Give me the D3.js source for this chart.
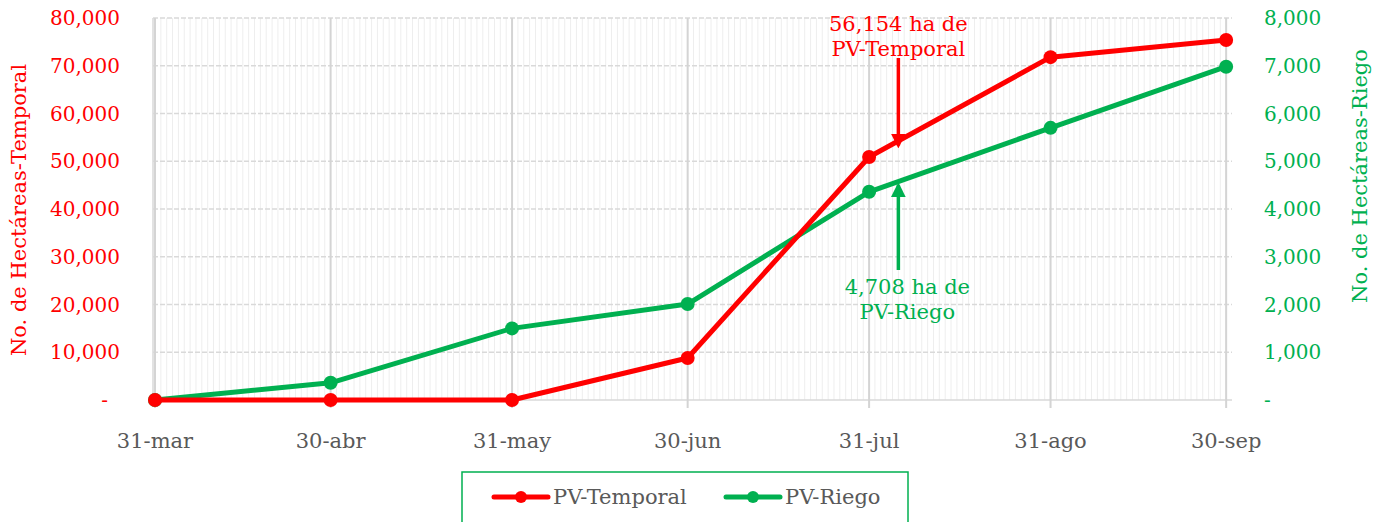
<!DOCTYPE html>
<html>
<head>
<meta charset="utf-8">
<script src="https://cdn.jsdelivr.net/npm/d3@7"></script>
<style>
  body { margin: 0; background: #fff; }
  text { font-family: "DejaVu Serif", serif; }
</style>
</head>
<body>
<div id="chart"></div>
<script>
// data
var fechas = ["2020-03-31", "2020-04-30", "2020-05-31", "2020-06-30", "2020-07-31", "2020-08-31", "2020-09-30"];
var etiquetasX = ["31-mar", "30-abr", "31-may", "30-jun", "31-jul", "31-ago", "30-sep"];
var temporal = [0, 0, 0, 8800, 50900, 71800, 75400];
var riego = [0, 360, 1500, 2010, 4360, 5700, 6980];
var ticksTemporal = [0, 10000, 20000, 30000, 40000, 50000, 60000, 70000, 80000];
var ticksRiego = [0, 1000, 2000, 3000, 4000, 5000, 6000, 7000, 8000];
var notaTemporal = { fecha: "2020-08-05", valor: 53300, texto: ["56,154 ha de", "PV-Temporal"] };
var notaRiego = { fecha: "2020-08-05", valor: 4500, texto: ["4,708 ha de", "PV-Riego"] };

var rojo = "#FF0000", verde = "#00B050", gris = "#595959";
var parse = d3.timeParse("%Y-%m-%d");

var svgWidth = 1378, svgHeight = 522;
var svg = d3.select("#chart").append("svg")
  .attr("width", svgWidth)
  .attr("height", svgHeight);

var x = d3.scaleTime()
  .domain([parse("2020-03-31"), parse("2020-10-01")])
  .range([155, 1232]);
var yL = d3.scaleLinear().domain([0, 80000]).range([400, 18]);
var yR = d3.scaleLinear().domain([0, 8000]).range([400, 18]);

var fmt = function (v) { return v === 0 ? "-" : d3.format(",")(v); };

// minor daily gridlines
var dias = d3.timeDay.range(x.domain()[0], x.domain()[1]);
svg.append("g").selectAll("line")
  .data(dias)
  .enter().append("line")
  .attr("x1", d => x(d)).attr("x2", d => x(d))
  .attr("y1", yL(80000)).attr("y2", yL(0))
  .attr("stroke", "#eeeeee").attr("stroke-width", 1);

// horizontal gridlines
svg.append("g").selectAll("line")
  .data(ticksTemporal)
  .enter().append("line")
  .attr("x1", x.range()[0] - 2).attr("x2", x.range()[1])
  .attr("y1", d => yL(d)).attr("y2", d => yL(d))
  .attr("stroke", "#d9d9d9").attr("stroke-width", 1.5)
  .attr("stroke-dasharray", d => d === 0 ? null : "5,2");

// left frame
svg.append("line")
  .attr("x1", x.range()[0] - 2).attr("x2", x.range()[0] - 2)
  .attr("y1", yL(80000)).attr("y2", yL(0))
  .attr("stroke", "#d9d9d9").attr("stroke-width", 1.5);

// major gridlines at month ends
svg.append("g").selectAll("line")
  .data(fechas)
  .enter().append("line")
  .attr("x1", d => x(parse(d))).attr("x2", d => x(parse(d)))
  .attr("y1", yL(80000)).attr("y2", yL(0) + 8)
  .attr("stroke", "#d4d4d4").attr("stroke-width", 2);

// x labels
svg.append("g").selectAll("text")
  .data(fechas)
  .enter().append("text")
  .attr("x", d => x(parse(d)))
  .attr("y", 448)
  .attr("text-anchor", "middle")
  .attr("fill", gris)
  .style("font-size", "21px")
  .text((d, i) => etiquetasX[i]);

// left axis labels
svg.append("g").selectAll("text")
  .data(ticksTemporal)
  .enter().append("text")
  .attr("x", d => d === 0 ? 108 : 120)
  .attr("y", d => yL(d) + 7)
  .attr("text-anchor", "end")
  .attr("fill", rojo)
  .style("font-size", "20px")
  .text(fmt);

// right axis labels
svg.append("g").selectAll("text")
  .data(ticksRiego)
  .enter().append("text")
  .attr("x", 1264)
  .attr("y", d => yR(d) + 7)
  .attr("text-anchor", "start")
  .attr("fill", verde)
  .style("font-size", "20px")
  .text(fmt);

// axis titles
svg.append("text")
  .attr("transform", "translate(26,210) rotate(-90)")
  .attr("text-anchor", "middle")
  .attr("fill", rojo)
  .style("font-size", "21px")
  .text("No. de Hectáreas-Temporal");

svg.append("text")
  .attr("transform", "translate(1367,176) rotate(-90)")
  .attr("text-anchor", "middle")
  .attr("fill", verde)
  .style("font-size", "21px")
  .text("No. de Hectáreas-Riego");

// lines
var datosT = fechas.map((d, i) => ({ fecha: parse(d), v: temporal[i] }));
var datosR = fechas.map((d, i) => ({ fecha: parse(d), v: riego[i] }));

function serie(datos, y, color) {
  var line = d3.line().x(d => x(d.fecha)).y(d => y(d.v));
  svg.append("path")
    .datum(datos)
    .attr("d", line)
    .attr("fill", "none")
    .attr("stroke", color)
    .attr("stroke-width", 5)
    .attr("stroke-linejoin", "round");
  svg.append("g").selectAll("circle")
    .data(datos)
    .enter().append("circle")
    .attr("cx", d => x(d.fecha))
    .attr("cy", d => y(d.v))
    .attr("r", 7)
    .attr("fill", color);
}
serie(datosR, yR, verde);
serie(datosT, yL, rojo);

// arrow markers
var defs = svg.append("defs");
[["flechaRoja", rojo], ["flechaVerde", verde]].forEach(function (m) {
  defs.append("marker")
    .attr("id", m[0])
    .attr("viewBox", "0 0 10 10")
    .attr("refX", 8).attr("refY", 5)
    .attr("markerWidth", 4.2).attr("markerHeight", 4.2)
    .attr("orient", "auto")
    .append("path")
    .attr("d", "M0,0L10,5L0,10Z")
    .attr("fill", m[1]);
});

// annotation temporal
var axT = x(parse(notaTemporal.fecha));
svg.append("line")
  .attr("x1", axT).attr("x2", axT)
  .attr("y1", 58).attr("y2", yL(notaTemporal.valor))
  .attr("stroke", rojo).attr("stroke-width", 3.5)
  .attr("marker-end", "url(#flechaRoja)");
svg.append("text")
  .attr("x", axT).attr("y", 31)
  .attr("text-anchor", "middle")
  .attr("fill", rojo)
  .style("font-size", "21px")
  .selectAll("tspan")
  .data(notaTemporal.texto)
  .enter().append("tspan")
  .attr("x", axT)
  .attr("dy", (d, i) => i === 0 ? 0 : 25)
  .text(d => d);

// annotation riego
var axR = x(parse(notaRiego.fecha));
svg.append("line")
  .attr("x1", axR).attr("x2", axR)
  .attr("y1", 270).attr("y2", yR(notaRiego.valor))
  .attr("stroke", verde).attr("stroke-width", 3.5)
  .attr("marker-end", "url(#flechaVerde)");
svg.append("text")
  .attr("x", axR + 9).attr("y", 294)
  .attr("text-anchor", "middle")
  .attr("fill", verde)
  .style("font-size", "21px")
  .selectAll("tspan")
  .data(notaRiego.texto)
  .enter().append("tspan")
  .attr("x", axR + 9)
  .attr("dy", (d, i) => i === 0 ? 0 : 25)
  .text(d => d);

// legend
var legend = svg.append("g");
legend.append("rect")
  .attr("x", 462).attr("y", 472)
  .attr("width", 446).attr("height", 60)
  .attr("fill", "#fff")
  .attr("stroke", verde).attr("stroke-width", 1.5);
[["PV-Temporal", rojo, 494], ["PV-Riego", verde, 726]].forEach(function (it) {
  legend.append("line")
    .attr("x1", it[2]).attr("x2", it[2] + 54)
    .attr("y1", 497).attr("y2", 497)
    .attr("stroke", it[1]).attr("stroke-width", 5)
    .attr("stroke-linecap", "round");
  legend.append("circle")
    .attr("cx", it[2] + 27).attr("cy", 497).attr("r", 6)
    .attr("fill", it[1]);
  legend.append("text")
    .attr("x", it[2] + 59).attr("y", 504)
    .attr("fill", gris)
    .style("font-size", "21px")
    .text(it[0]);
});
</script>
</body>
</html>
